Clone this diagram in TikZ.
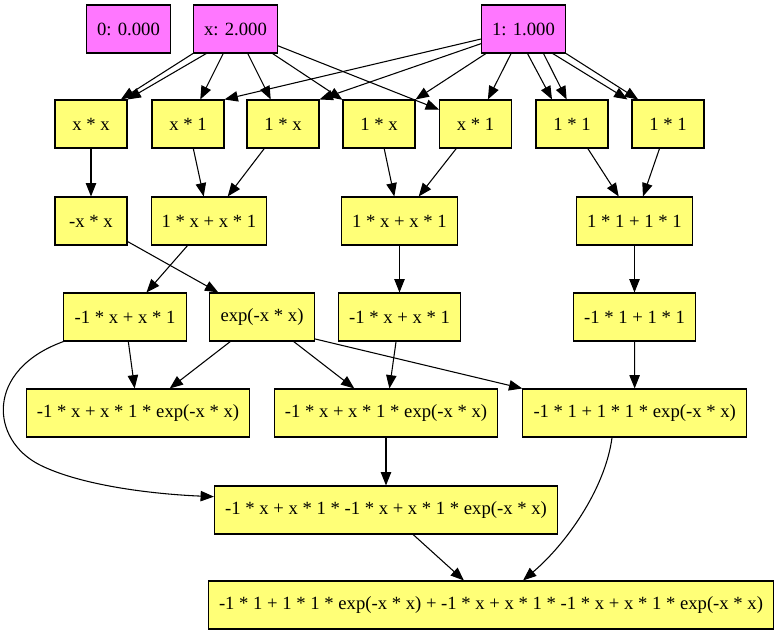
\documentclass[tikz,border=0pt]{standalone}
\usepackage{fontspec}
\setmainfont{Liberation Serif}
\usepackage{xcolor}
\usetikzlibrary{arrows.meta}
\definecolor{valnode}{RGB}{255,119,255}
\definecolor{opnode}{RGB}{255,255,119}

\begin{document}
\begin{tikzpicture}[
    x=0.75pt, y=-0.75pt,
    every node/.style={font=\fontsize{14}{16}\selectfont},
    val/.style={rectangle, draw=black, fill=valnode, line width=0.8pt,
                minimum width=54pt, minimum height=36pt, inner xsep=8pt},
    oper/.style={rectangle, draw=black, fill=opnode, line width=0.8pt,
                 minimum width=54pt, minimum height=36pt, inner xsep=8pt},
    link/.style={-{Triangle[length=10pt, width=7.8pt]}, line width=0.8pt}
]
\useasboundingbox (0,0) rectangle (779,635);

% --- Fila 0: valores ---
\node[val] (zero) at (128.5,29) {0: 0.000};
\node[val] (vx)   at (235.5,29) {x: 2.000};
\node[val] (one)  at (523.5,29) {1: 1.000};

% --- Fila 1: productos ---
\node[oper] (xx)  at (91,124)  {x * x};
\node[oper] (xa)  at (188,124) {x * 1};
\node[oper] (ax)  at (283,124) {1 * x};
\node[oper] (axb) at (379,124) {1 * x};
\node[oper] (xab) at (475.5,124) {x * 1};
\node[oper] (aa)  at (572,124) {1 * 1};
\node[oper] (aab) at (668,124) {1 * 1};

% --- Fila 2 ---
\node[oper] (negxx) at (91,221)    {-x * x};
\node[oper] (sa)    at (209,221)   {1 * x + x * 1};
\node[oper] (sb)    at (399.5,221) {1 * x + x * 1};
\node[oper] (sc)    at (634.5,221) {1 * 1 + 1 * 1};

% --- Fila 3 ---
\node[oper] (na) at (125,317)   {-1 * x + x * 1};
\node[oper] (ex) at (262,317)   {exp(-x * x)};
\node[oper] (nb) at (399.5,317) {-1 * x + x * 1};
\node[oper] (nc) at (634.5,317) {-1 * 1 + 1 * 1};

% --- Fila 4 ---
\node[oper] (pa) at (138,413)   {-1 * x + x * 1 * exp(-x * x)};
\node[oper] (pb) at (386,413)   {-1 * x + x * 1 * exp(-x * x)};
\node[oper] (pc) at (634.7,413) {-1 * 1 + 1 * 1 * exp(-x * x)};

% --- Filas 5 y 6 ---
\node[oper] (q) at (386,510) {-1 * x + x * 1 * -1 * x + x * 1 * exp(-x * x)};
\node[oper] (r) at (491,605) {-1 * 1 + 1 * 1 * exp(-x * x) + -1 * x + x * 1 * -1 * x + x * 1 * exp(-x * x)};

% --- Aristas fila 0 -> fila 1 ---
\draw[link] (vx.south west) -- ([xshift=-5pt]xx.north east);
\draw[link] ([xshift=10pt]vx.south west) -- (xx.north east);
\draw[link] (vx) -- (xa);
\draw[link] (vx) -- (ax);
\draw[link] (vx) -- (axb);
\draw[link] (vx) -- (xab);
\draw[link] (one) -- (xa.north east);
\draw[link] (one) -- (ax.north east);
\draw[link] (one) -- (axb.north east);
\draw[link] (one) -- (xab);
\draw[link] ([xshift=3pt]one.south) -- ([xshift=-15pt]aa.north);
\draw[link] ([xshift=15pt]one.south) -- ([xshift=-4pt]aa.north);
\draw[link] ([xshift=-10pt]one.south east) -- ([xshift=-3pt]aab.north west);
\draw[link] (one.south east) -- ([xshift=5pt]aab.north west);

% --- Aristas fila 1 -> fila 2 ---
\draw[link] (xx) -- (negxx);
\draw[link] (xa) -- (sa);
\draw[link] (ax) -- (sa);
\draw[link] (axb) -- (sb);
\draw[link] (xab) -- (sb);
\draw[link] (aa) -- (sc);
\draw[link] (aab) -- (sc);

% --- Aristas fila 2 -> fila 3 ---
\draw[link] (negxx) -- (ex);
\draw[link] (sa) -- (na);
\draw[link] (sb) -- (nb);
\draw[link] (sc) -- (nc);

% --- Aristas fila 3 -> fila 4 ---
\draw[link] (na) -- (pa);
\draw[link] (ex) -- (pa);
\draw[link] (ex) -- (pb);
\draw[link] ([yshift=2pt]ex.south east) -- (pc.north west);
\draw[link] (nb) -- (pb);
\draw[link] (nc) -- (pc);

% --- Aristas hacia filas 5 y 6 ---
\draw[link] (na.south west) .. controls (-15,370) and (-10,440) .. (40,465)
    .. controls (80,485) and (150,494) .. ([yshift=10pt]q.west);
\draw[link] (pb) -- (q);
\draw[link] (q) -- (r);
\draw[link] ([xshift=-17pt]pc.south) .. controls (605,490) and (565,545)
    .. ([xshift=24pt]r.north);
\end{tikzpicture}
\end{document}
